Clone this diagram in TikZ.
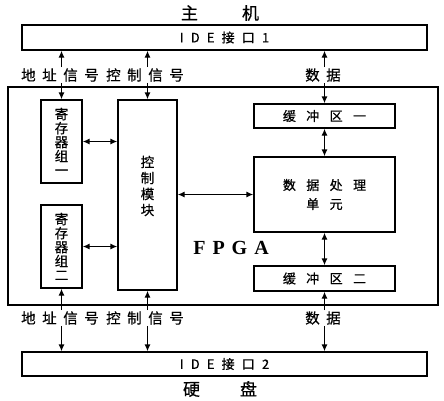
\documentclass[tikz,border=0pt]{standalone}
\usepackage{fontspec}
\setmainfont{Liberation Serif}
\newfontfamily\cjk[FakeBold=0.7]{Noto Sans CJK SC}
\usetikzlibrary{arrows.meta}

\begin{document}
\begin{tikzpicture}[x=1pt,y=-1pt,
  blk/.style={draw,line width=1.3pt,inner sep=0pt,align=center},
  vtxt/.style={font=\cjk\fontsize{13.5}{14}\selectfont},
  htxt/.style={font=\cjk\fontsize{13}{19}\selectfont\addfontfeature{LetterSpace=80}},
  itxt/.style={font=\cjk\fontsize{13}{19}\selectfont\addfontfeature{LetterSpace=55}},
  lbl/.style={inner sep=1pt,font=\cjk\fontsize{14.5}{16}\selectfont\addfontfeature{LetterSpace=45}},
  link/.style={line width=1.3pt,{Latex[length=7pt,width=6pt]}-{Latex[length=7pt,width=6pt]}},
  up/.style={line width=1.3pt,-{Latex[length=7pt,width=6pt]}}]

  \useasboundingbox (0,0) rectangle (444,400);

  \newcommand\BW{141pt}
  \newcommand\RW{41pt}

  %% host and disk
  \node[font=\cjk\fontsize{17}{18}\selectfont] (host) at (220,13) {主\hspace{44pt}机};
  \node[font=\cjk\fontsize{17}{18}\selectfont] (disk) at (220,389) {硬\hspace{40pt}盘};

  \node[blk,minimum width=405pt,minimum height=25pt,itxt] (ide1) at (224.5,37.5)
    {IDE接口1};
  \node[blk,minimum width=405pt,minimum height=24pt,itxt] (ide2) at (224.5,364)
    {IDE接口2};

  %% FPGA frame
  \node[blk,minimum width=430pt,minimum height=218pt] (fpga) at (223,196) {};
  \node[font=\bfseries\fontsize{20}{22}\selectfont\addfontfeature{LetterSpace=35}]
    (fpgatxt) at (231,248) {FPGA};

  %% blocks inside
  \node[blk,minimum width=\RW,minimum height=83pt,vtxt] (regA) at (61.5,141.5)
    {寄\\存\\器\\组\\一};
  \node[blk,minimum width=\RW,minimum height=83pt,vtxt] (regB) at (61.5,246.5)
    {寄\\存\\器\\组\\二};
  \node[blk,minimum width=59pt,minimum height=190pt,
    label={[align=center,yshift=9pt,font=\cjk\fontsize{13.5}{16}\selectfont]center:控\\制\\模\\块}]
    (ctrl) at (147.5,195) {};
  \node[blk,minimum width=\BW,minimum height=24pt,htxt] (bufA) at (324.5,116)
    {缓冲区一};
  \node[blk,minimum width=\BW,minimum height=75pt,htxt] (proc) at (324.5,194.5)
    {数据处理\\单元};
  \node[blk,minimum width=\BW,minimum height=25pt,htxt] (bufB) at (324.5,278.5)
    {缓冲区二};

  %% signal labels
  \node[lbl] (addrT) at (60,75) {地址信号};
  \node[lbl] (cmdT) at (145,75) {控制信号};
  \node[lbl] (dataT) at (323,75) {数据};
  \node[lbl] (addrB) at (60,318) {地址信号};
  \node[lbl] (cmdB) at (145,318) {控制信号};
  \node[lbl] (dataB) at (323,318) {数据};

  %% host side
  \draw[up] (regA.north |- addrT.north) -- (regA.north |- ide1.south);
  \draw[up] (regA.north |- addrT.south) -- (regA.north);
  \draw[up] (ctrl.north |- cmdT.north) -- (ctrl.north |- ide1.south);
  \draw[up] (ctrl.north |- cmdT.south) -- (ctrl.north);
  \draw[up] (bufA.north |- dataT.north) -- (bufA.north |- ide1.south);
  \draw[up] (bufA.north |- dataT.south) -- (bufA.north);

  %% disk side
  \draw[up] (regB.south |- addrB.north) -- (regB.south);
  \draw[up] (regB.south |- addrB.south) -- (regB.south |- ide2.north);
  \draw[up] (ctrl.south |- cmdB.north) -- (ctrl.south);
  \draw[up] (ctrl.south |- cmdB.south) -- (ctrl.south |- ide2.north);
  \draw[up] (bufB.south |- dataB.north) -- (bufB.south);
  \draw[up] (bufB.south |- dataB.south) -- (bufB.south |- ide2.north);

  %% inside FPGA
  \draw[link] (regA.east) -- (regA.east -| ctrl.west);
  \draw[link] (regB.east) -- (regB.east -| ctrl.west);
  \draw[link] (ctrl.east |- proc.west) -- (proc.west);
  \draw[link] (bufA.south) -- (proc.north);
  \draw[link] (proc.south) -- (bufB.north);

\end{tikzpicture}
\end{document}
